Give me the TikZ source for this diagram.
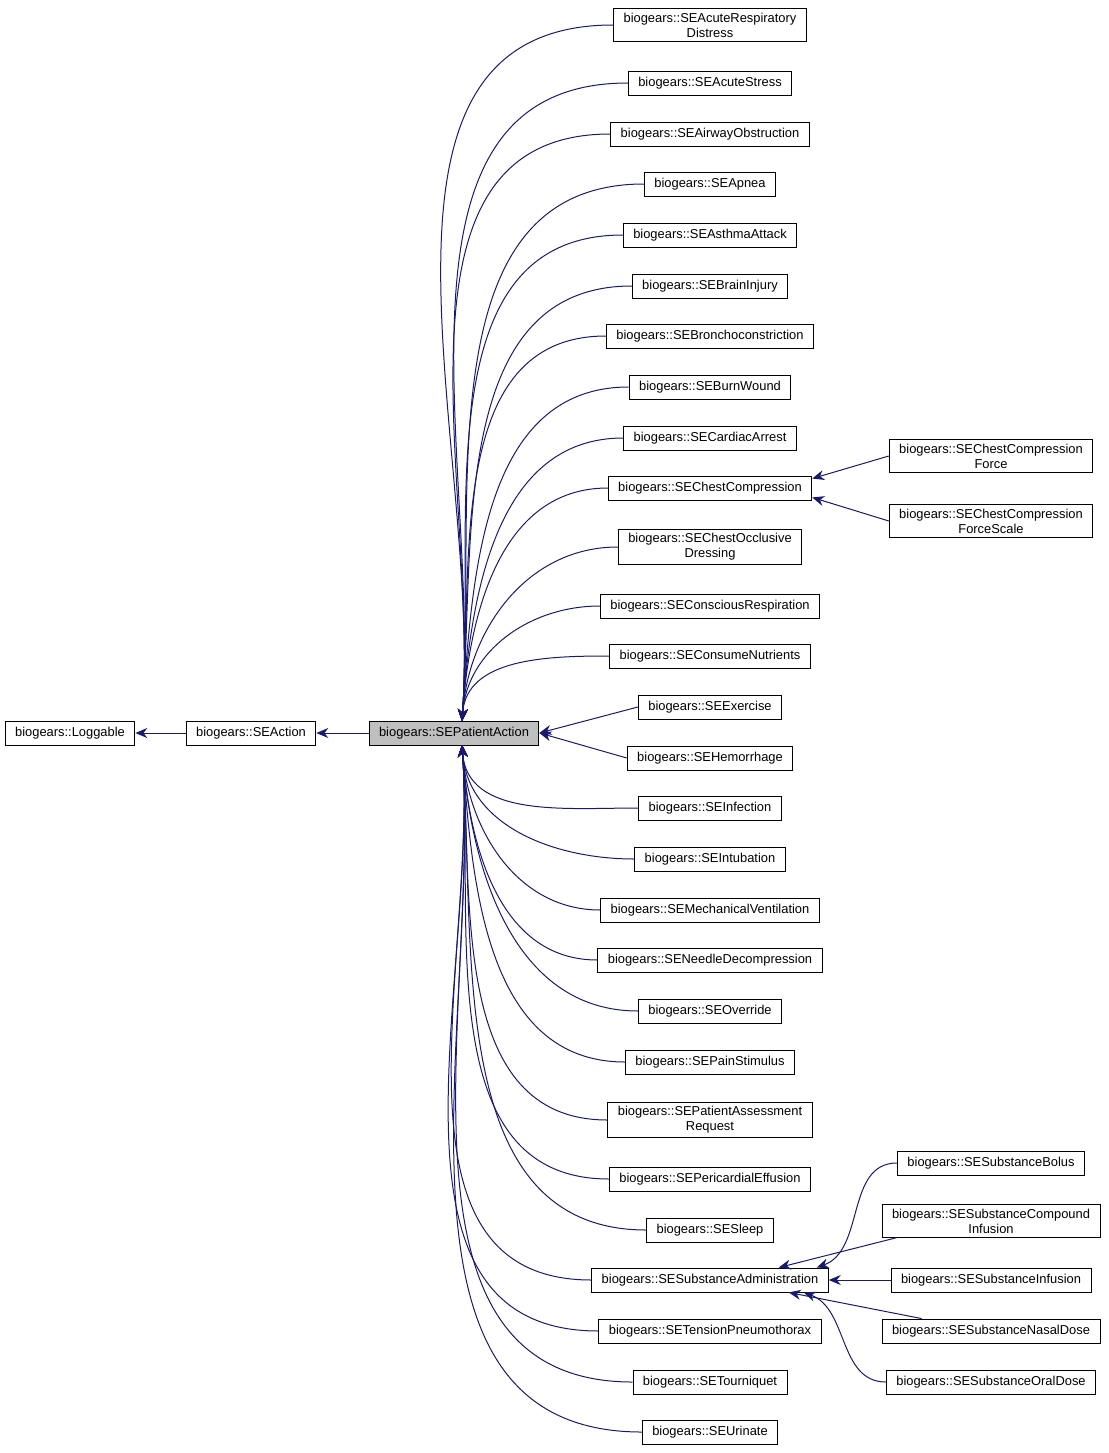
\documentclass[tikz,border=0pt]{standalone}
\usepackage{fontspec}
\setmainfont{Liberation Sans}
\usetikzlibrary{positioning,arrows.meta}
\definecolor{edgeblue}{HTML}{191970}
\tikzset{
  cls/.style={draw, line width=0.9pt, fill=white, align=center, inner xsep=10pt, inner ysep=4pt, minimum height=24pt, font=\fontsize{12.9}{15}\selectfont},
  edge/.style={draw=edgeblue, line width=1pt, {Stealth[length=12pt,width=10pt]}-, fill=none}
}
\begin{document}
\begin{tikzpicture}[x=1pt,y=-1pt]
  \useasboundingbox (0,0) rectangle (1108,1453);
  % base chain
  \node[cls] (log) at (70,733) {biogears::Loggable};
  \node[cls] (act) at (251,733) {biogears::SEAction};
  \node[cls, fill=black!25] (pa) at (454,733) {biogears::SEPatientAction};
  \draw[edge] (log.east) -- (act.west);
  \draw[edge] (act.east) -- (pa.west);
  \coordinate (pt) at (462,721);
  \coordinate (pb) at (462,745);
  % children of SEPatientAction
  \foreach \name/\y/\txt in {
    ard/25/{biogears::SEAcuteRespiratory\\Distress},
    ast/83/{biogears::SEAcuteStress},
    aob/134/{biogears::SEAirwayObstruction},
    apn/184/{biogears::SEApnea},
    asa/235/{biogears::SEAsthmaAttack},
    bri/286/{biogears::SEBrainInjury},
    brc/336/{biogears::SEBronchoconstriction},
    buw/387/{biogears::SEBurnWound},
    caa/438/{biogears::SECardiacArrest},
    chc/488/{biogears::SEChestCompression},
    cod/547/{biogears::SEChestOcclusive\\Dressing},
    cor/606/{biogears::SEConsciousRespiration},
    con/656/{biogears::SEConsumeNutrients}} {
    \node[cls] (\name) at (710,\y) {\txt};
    \draw[edge] (pt) to[out=86, in=180] (\name.west);
  }
  \foreach \name/\y/\txt in {
    exe/707/{biogears::SEExercise},
    hem/758/{biogears::SEHemorrhage}} {
    \node[cls] (\name) at (710,\y) {\txt};
    \draw[edge] (pa.east) -- (\name.west);
  }
  \foreach \name/\y/\txt in {
    inf/808/{biogears::SEInfection},
    itb/859/{biogears::SEIntubation},
    mev/910/{biogears::SEMechanicalVentilation},
    ned/960/{biogears::SENeedleDecompression},
    ovr/1011/{biogears::SEOverride},
    pst/1062/{biogears::SEPainStimulus},
    par/1120/{biogears::SEPatientAssessment\\Request},
    pce/1179/{biogears::SEPericardialEffusion},
    slp/1230/{biogears::SESleep},
    sad/1280/{biogears::SESubstanceAdministration},
    tpn/1331/{biogears::SETensionPneumothorax},
    trn/1382/{biogears::SETourniquet},
    uri/1432/{biogears::SEUrinate}} {
    \node[cls] (\name) at (710,\y) {\txt};
    \draw[edge] (pb) to[out=-86, in=180] (\name.west);
  }
  % chest compression children
  \node[cls] (ccf) at (991,456) {biogears::SEChestCompression\\Force};
  \node[cls] (ccs) at (991,521) {biogears::SEChestCompression\\ForceScale};
  \draw[edge] ([yshift=-3pt]chc.north east) -- (ccf.west);
  \draw[edge] ([yshift=3pt]chc.south east) -- (ccs.west);
  % substance administration children
  \node[cls] (sbo) at (991,1163) {biogears::SESubstanceBolus};
  \node[cls] (sci) at (991,1221) {biogears::SESubstanceCompound\\Infusion};
  \node[cls] (sin) at (991,1280) {biogears::SESubstanceInfusion};
  \node[cls] (snd) at (991,1331) {biogears::SESubstanceNasalDose};
  \node[cls] (sod) at (991,1382) {biogears::SESubstanceOralDose};
  \draw[edge] ([xshift=-12pt]sad.north east) to[out=20, in=180] (sbo.west);
  \draw[edge] ([xshift=-50pt]sad.north east) -- ([xshift=15pt]sci.south west);
  \draw[edge] (sad.east) -- (sin.west);
  \draw[edge] ([xshift=-40pt]sad.south east) -- ([xshift=40pt]snd.north west);
  \draw[edge] ([xshift=-25pt]sad.south east) to[out=-20, in=180] (sod.west);
\end{tikzpicture}
\end{document}
